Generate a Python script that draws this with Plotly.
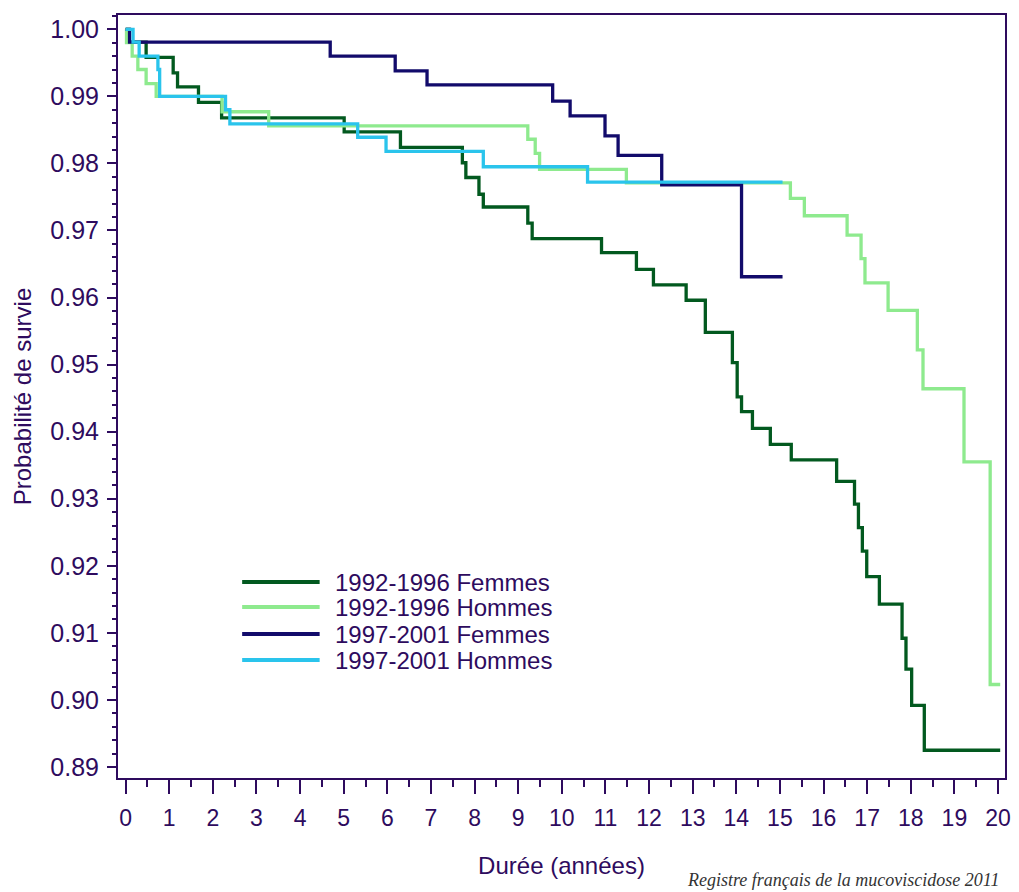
import plotly.graph_objects as go

# ---- data ----
series_names = ["1992-1996 Femmes", "1992-1996 Hommes", "1997-2001 Femmes", "1997-2001 Hommes"]
series_colors = ["#02591F", "#8EEA8E", "#120B6B", "#2AC4EC"]

t_f92 = [0, 0.08, 0.47, 1.09, 1.19, 1.67, 2.20, 5.01, 6.30, 7.72, 7.80, 8.10, 8.20, 9.22, 9.32,
         10.91, 11.71, 12.10, 12.85, 13.29, 13.91, 14.02, 14.12, 14.37, 14.78, 15.26, 16.30,
         16.71, 16.80, 16.89, 16.99, 17.28, 17.80, 17.89, 18.02, 18.31, 20.05]
s_f92 = [1.0, 0.9981, 0.9958, 0.9935, 0.9914, 0.9891, 0.9868, 0.9847, 0.9824, 0.9801, 0.9779,
         0.9754, 0.9735, 0.9711, 0.9688, 0.9667, 0.9642, 0.9619, 0.9596, 0.9548, 0.9503, 0.9452,
         0.9430, 0.9405, 0.9381, 0.9358, 0.9326, 0.9292, 0.9257, 0.9222, 0.9184, 0.9143, 0.9092,
         0.9046, 0.8992, 0.8925, 0.8925]

t_h92 = [0, 0.02, 0.15, 0.28, 0.47, 0.70, 2.21, 3.28, 9.22, 9.39, 9.49, 11.48, 15.24, 15.56,
         16.54, 16.86, 16.95, 17.48, 18.15, 18.28, 19.22, 19.82, 20.05]
s_h92 = [1.0, 0.9980, 0.9960, 0.9940, 0.9919, 0.9900, 0.9877, 0.9856, 0.9836, 0.9815, 0.9791,
         0.9771, 0.9748, 0.9722, 0.9693, 0.9658, 0.9622, 0.9581, 0.9522, 0.9464, 0.9355, 0.9023,
         0.9023]

t_f97 = [0, 0.09, 4.69, 6.18, 6.91, 9.79, 10.19, 10.99, 11.29, 12.29, 14.12, 15.06]
s_f97 = [1.0, 0.9981, 0.9960, 0.9938, 0.9917, 0.9893, 0.9871, 0.9841, 0.9812, 0.9768, 0.9631, 0.9631]

t_h97 = [0, 0.17, 0.31, 0.74, 0.78, 2.29, 2.39, 5.32, 5.97, 8.20, 10.59, 15.06]
s_h97 = [1.0, 0.9981, 0.9960, 0.9940, 0.9900, 0.9880, 0.9859, 0.9839, 0.9818, 0.9795, 0.9772, 0.9772]

x_title = "Durée (années)"
y_title = "Probabilité de survie"
source_note = "Registre français de la mucoviscidose 2011"

AX = "#2E0B5E"
FONT = "Liberation Sans, Arial, sans-serif"

W, H = 1019, 892
ML, MR, MT, MB = 118, 8, 15, 114

fig = go.Figure()
for name, color, t, s in zip(series_names, series_colors,
                             [t_f92, t_h92, t_f97, t_h97], [s_f92, s_h92, s_f97, s_h97]):
    fig.add_trace(go.Scatter(x=t, y=s, mode="lines", name=name,
                             line=dict(color=color, width=3.3, shape="hv"),
                             showlegend=False))

fig.update_layout(
    width=W, height=H,
    margin=dict(l=ML, r=MR, t=MT, b=MB),
    plot_bgcolor="white", paper_bgcolor="white",
    font=dict(family=FONT, color=AX),
    showlegend=False,
)

fig.update_xaxes(
    range=[-0.175, 20.16], tickmode="linear", tick0=0, dtick=1,
    ticks="outside", ticklen=14, tickwidth=2, tickcolor=AX,
    showline=True, linewidth=2, linecolor=AX, mirror=True,
    showgrid=False, zeroline=False,
    minor=dict(dtick=0.5, ticklen=7, tickwidth=2, tickcolor=AX, ticks="outside", showgrid=False),
    tickfont=dict(size=23, family=FONT, color=AX),
    ticklabelstandoff=4,
    title=dict(text=x_title, font=dict(size=24, family=FONT, color=AX), standoff=28),
)
fig.update_yaxes(
    range=[0.88836, 1.00213], tickmode="linear", tick0=0.89, dtick=0.01, tickformat=".2f",
    ticks="outside", ticklen=9, tickwidth=2, tickcolor=AX,
    showline=True, linewidth=2, linecolor=AX, mirror=True,
    showgrid=False, zeroline=False,
    minor=dict(dtick=0.002, ticklen=4, tickwidth=2, tickcolor=AX, ticks="outside", showgrid=False),
    tickfont=dict(size=25, family=FONT, color=AX),
    ticklabelstandoff=3,
    title=dict(text=y_title, font=dict(size=24, family=FONT, color=AX), standoff=12),
)

# legend (line samples + labels) in paper coordinates, positions given in page pixels
plot_w = W - ML - MR
plot_h = H - MT - MB
def px_to_paper_x(px):
    return (px - ML) / plot_w
def px_to_paper_y(py):
    return 1 - (py - MT) / plot_h

leg_x0, leg_x1, leg_text_x = 243, 321, 334
leg_rows = [582, 607, 634, 660]
for name, color, yy in zip(series_names, series_colors, leg_rows):
    py = px_to_paper_y(yy)
    fig.add_shape(type="line", xref="paper", yref="paper",
                  x0=px_to_paper_x(leg_x0), x1=px_to_paper_x(leg_x1), y0=py, y1=py,
                  line=dict(color=color, width=4))
    fig.add_annotation(text=name, xref="paper", yref="paper",
                       x=px_to_paper_x(leg_text_x), y=py, xanchor="left", yanchor="middle",
                       showarrow=False, font=dict(size=24, family=FONT, color=AX))

fig.add_annotation(text="<i>" + source_note + "</i>", xref="paper", yref="paper",
                   x=px_to_paper_x(1007), y=px_to_paper_y(880), xanchor="right", yanchor="middle",
                   showarrow=False,
                   font=dict(size=18, family="Liberation Serif, Times New Roman, serif", color="#333333"))

# remove the default page margin so the 1019x892 figure fills the window exactly
fig.write_html("out.html", config={"displayModeBar": False},
               post_script="document.body.style.margin='0';document.body.style.overflow='hidden';")
